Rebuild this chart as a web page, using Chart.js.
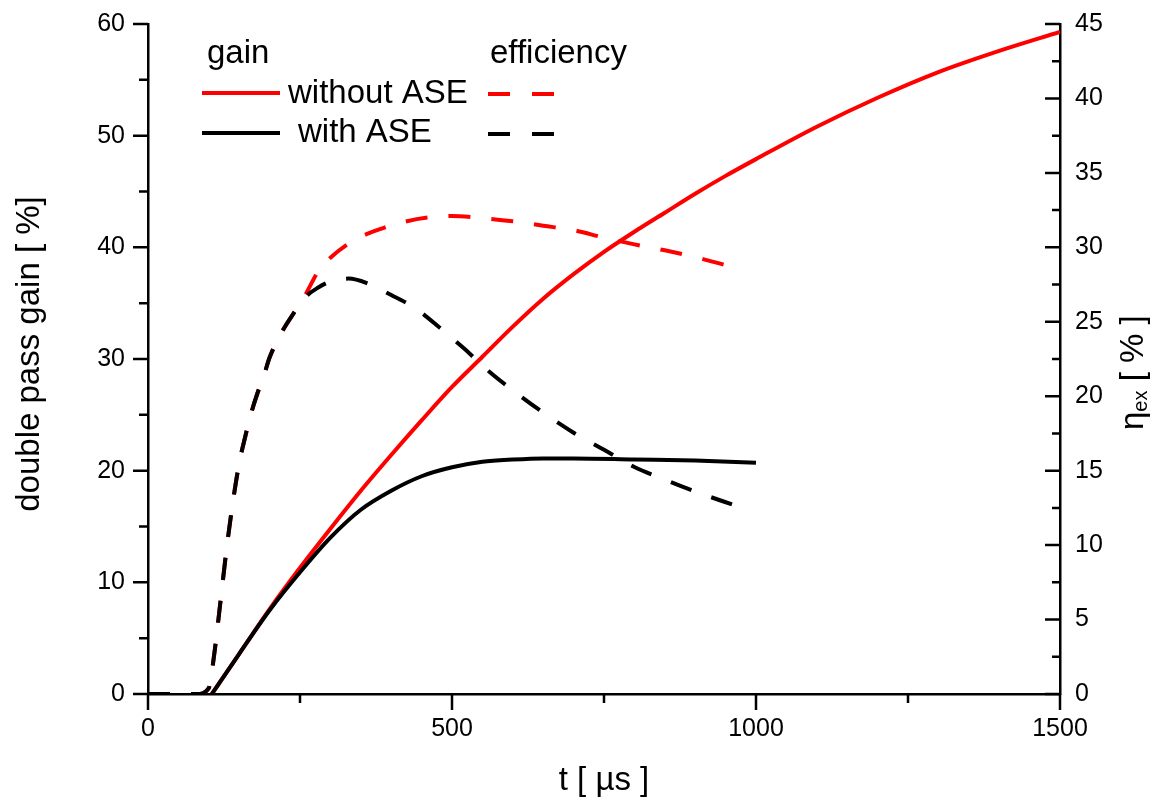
<!DOCTYPE html>
<html>
<head>
<meta charset="utf-8">
<script src="https://cdn.jsdelivr.net/npm/chart.js@4"></script>
<style>
  body { margin: 0; background: #fff; }
  #wrap { width: 1161px; height: 799px; }
</style>
</head>
<body>
<div id="wrap"><canvas id="chart"></canvas></div>
<script>
// gain, without ASE (red solid)
var tGainRed = [105, 150, 200, 250, 300, 350, 400, 450, 500, 550, 600, 650, 700, 750, 800, 850, 900, 950, 1000, 1100, 1200, 1300, 1400, 1500];
var gainRed = [0, 3.6, 7.6, 11.3, 14.8, 18.2, 21.4, 24.5, 27.5, 30.2, 32.9, 35.4, 37.6, 39.6, 41.4, 43.1, 44.8, 46.4, 47.9, 50.8, 53.4, 55.7, 57.6, 59.3];

// gain, with ASE (black solid)
var tGainBlack = [105, 150, 200, 250, 300, 350, 400, 450, 500, 550, 600, 650, 700, 800, 900, 1000];
var gainBlack = [0, 3.6, 7.5, 10.9, 14.0, 16.5, 18.2, 19.5, 20.3, 20.8, 21.0, 21.1, 21.1, 21.0, 20.9, 20.7];

// efficiency, without ASE (red dashed)
var tEffRed = [0, 50, 80, 100, 105, 110, 120, 130, 140, 150, 160, 170, 180, 190, 200, 220, 240, 260, 280, 300, 340, 380, 420, 460, 500, 540, 600, 650, 700, 750, 800, 850, 900, 950];
var effRed = [0, 0, 0, 0.4, 1.5, 3.0, 6.5, 10.0, 13.0, 15.5, 17.3, 18.9, 20.2, 21.3, 22.6, 24.3, 25.6, 26.9, 28.4, 29.3, 30.5, 31.2, 31.7, 32.0, 32.1, 32.0, 31.75, 31.45, 31.15, 30.65, 30.2, 29.8, 29.35, 28.8];

// efficiency, with ASE (black dashed)
var tEffBlack = [0, 50, 80, 100, 105, 110, 120, 130, 140, 150, 160, 170, 180, 190, 200, 220, 240, 260, 280, 300, 330, 360, 400, 440, 480, 520, 560, 600, 650, 700, 750, 800, 850, 900, 970];
var effBlack = [0, 0, 0, 0.4, 1.5, 3.0, 6.5, 10.0, 13.0, 15.5, 17.3, 18.9, 20.2, 21.3, 22.6, 24.3, 25.6, 26.7, 27.3, 27.7, 27.9, 27.6, 26.8, 25.9, 24.6, 23.2, 21.7, 20.4, 18.9, 17.55, 16.4, 15.25, 14.4, 13.6, 12.6];

// axis ticks
var xTicks = [0, 500, 1000, 1500];
var gainTicks = [0, 10, 20, 30, 40, 50, 60];
var effTicks = [0, 5, 10, 15, 20, 25, 30, 35, 40, 45];

var FONT = "'Liberation Sans', Arial, sans-serif";
var RED = '#ff0000';
var DASH = [22, 21];

function pts(xs, ys) {
  return xs.map(function (x, i) { return { x: x, y: ys[i] }; });
}

// ticks (major + minor), axis titles and the hand-made legend
var decor = {
  id: 'decor',
  afterDraw: function (chart) {
    var ctx = chart.ctx;
    var xs = chart.scales.x, yl = chart.scales.y, yr = chart.scales.y1;
    var a = chart.chartArea;
    var v, p, len;
    ctx.save();
    ctx.strokeStyle = '#000';
    ctx.lineWidth = 2.5;
    ctx.setLineDash([]);
    ctx.beginPath();
    for (v = 0; v <= 60; v += 5) {
      p = yl.getPixelForValue(v);
      len = v % 10 === 0 ? 15 : 9;
      ctx.moveTo(a.left, p); ctx.lineTo(a.left - len, p);
    }
    for (v = 0; v <= 1500; v += 250) {
      p = xs.getPixelForValue(v);
      len = v % 500 === 0 ? 16 : 9;
      ctx.moveTo(p, a.bottom); ctx.lineTo(p, a.bottom + len);
    }
    for (v = 0; v <= 45; v += 2.5) {
      p = yr.getPixelForValue(v);
      len = v % 5 === 0 ? 15 : 8;
      ctx.moveTo(a.right, p); ctx.lineTo(a.right - len, p);
    }
    ctx.stroke();

    ctx.fillStyle = '#000';
    ctx.font = '33px ' + FONT;

    // x title
    ctx.textAlign = 'center';
    ctx.textBaseline = 'alphabetic';
    ctx.fillText('t [ µs ]', (a.left + a.right) / 2, 790);

    // left title
    ctx.save();
    ctx.translate(30, 354);
    ctx.rotate(-Math.PI / 2);
    ctx.textBaseline = 'middle';
    ctx.fillText('double pass gain [ %]', 0, 0);
    ctx.restore();

    // right title with subscript
    ctx.save();
    ctx.translate(1143, 430);
    ctx.rotate(-Math.PI / 2);
    ctx.textAlign = 'left';
    ctx.textBaseline = 'alphabetic';
    ctx.font = '33px ' + FONT;
    ctx.fillText('η', 0, 0);
    var w = ctx.measureText('η').width;
    ctx.font = '20px ' + FONT;
    ctx.fillText('ex', w, 4);
    w += ctx.measureText('ex').width;
    ctx.font = '33px ' + FONT;
    ctx.fillText(' [ % ]', w, 0);
    ctx.restore();

    // legend
    ctx.textAlign = 'left';
    ctx.textBaseline = 'alphabetic';
    ctx.font = '33px ' + FONT;
    ctx.fillText('gain', 207, 63);
    ctx.fillText('efficiency', 490, 63);
    ctx.fillText('without ASE', 288, 103);
    ctx.fillText('with ASE', 298, 142);

    ctx.lineWidth = 4;
    ctx.lineCap = 'butt';
    ctx.strokeStyle = RED;
    ctx.beginPath(); ctx.moveTo(202, 93); ctx.lineTo(280, 93); ctx.stroke();
    ctx.beginPath(); ctx.moveTo(488, 94); ctx.lineTo(510, 94); ctx.moveTo(532, 94); ctx.lineTo(554, 94); ctx.stroke();
    ctx.strokeStyle = '#000';
    ctx.beginPath(); ctx.moveTo(202, 133); ctx.lineTo(280, 133); ctx.stroke();
    ctx.beginPath(); ctx.moveTo(488, 134); ctx.lineTo(510, 134); ctx.moveTo(532, 134); ctx.lineTo(554, 134); ctx.stroke();
    ctx.restore();
  }
};

function lineSet(data, color, axis, dashed) {
  return {
    data: data,
    yAxisID: axis,
    borderColor: color,
    borderWidth: 4,
    borderDash: dashed ? DASH : [],
    pointRadius: 0,
    fill: false,
    cubicInterpolationMode: 'monotone'
  };
}

var tickFont = { family: FONT, size: 25 };
function plain(v) { return String(v); }

// fixed box sizes so the plot area sits where the original one does
function fitV(width) {
  return function (s) { s.width = width; s.paddingTop = 0; s.paddingBottom = 0; };
}

new Chart(document.getElementById('chart'), {
  type: 'line',
  data: {
    datasets: [
      lineSet(pts(tEffBlack, effBlack), '#000', 'y1', true),
      lineSet(pts(tGainBlack, gainBlack), '#000', 'y', false),
      lineSet(pts(tEffRed, effRed), RED, 'y1', true),
      lineSet(pts(tGainRed, gainRed), RED, 'y', false)
    ]
  },
  options: {
    responsive: true,
    maintainAspectRatio: false,
    animation: false,
    layout: { padding: { top: 24, left: 0, right: 0, bottom: 0 } },
    plugins: { legend: { display: false }, tooltip: { enabled: false } },
    scales: {
      x: {
        type: 'linear',
        min: 0, max: 1500,
        afterBuildTicks: function (s) { s.ticks = xTicks.map(function (v) { return { value: v }; }); },
        afterFit: function (s) { s.height = 105; s.paddingLeft = 0; s.paddingRight = 0; },
        ticks: { font: tickFont, color: '#000', padding: 20, maxRotation: 0, callback: plain },
        grid: { display: false, drawTicks: false },
        border: { display: true, color: '#000', width: 2.5 }
      },
      y: {
        position: 'left',
        min: 0, max: 60,
        afterBuildTicks: function (s) { s.ticks = gainTicks.map(function (v) { return { value: v }; }); },
        afterFit: fitV(148),
        ticks: { font: tickFont, color: '#000', padding: 23, callback: plain },
        grid: { display: false, drawTicks: false },
        border: { display: true, color: '#000', width: 2.5 }
      },
      y1: {
        position: 'right',
        min: 0, max: 45,
        afterBuildTicks: function (s) { s.ticks = effTicks.map(function (v) { return { value: v }; }); },
        afterFit: fitV(101),
        ticks: { font: tickFont, color: '#000', padding: 15, callback: plain },
        grid: { display: false, drawTicks: false },
        border: { display: true, color: '#000', width: 2.5 }
      }
    }
  },
  plugins: [decor]
});
</script>
</body>
</html>
